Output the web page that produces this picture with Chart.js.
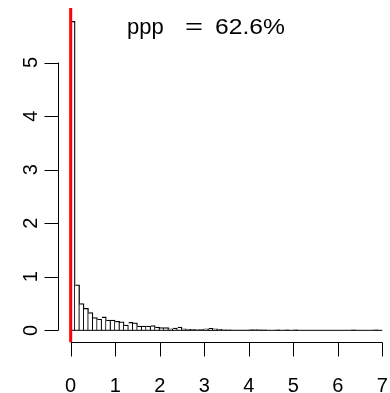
<!DOCTYPE html>
<html>
<head>
<meta charset="utf-8">
<script src="https://cdn.jsdelivr.net/npm/chart.js@4"></script>
<style>
  html, body { margin: 0; padding: 0; background: #fff; }
  canvas { display: block; }
</style>
</head>
<body>
<canvas id="histChart" width="390" height="393"></canvas>
<script>
// histogram bins: width 0.1, starting at 0
const binWidth = 0.1;
const density = [
  5.77, 0.85, 0.50, 0.41, 0.33, 0.24, 0.21, 0.25, 0.19, 0.19,
  0.17, 0.16, 0.10, 0.15, 0.14, 0.08, 0.08, 0.08, 0.09, 0.06,
  0.05, 0.05, 0.03, 0.04, 0.06, 0.03, 0.02, 0.02, 0.015, 0.02,
  0.03, 0.035, 0.03, 0.02, 0.01, 0.01, 0.005, 0.005, 0.005, 0.005,
  0.015, 0.015, 0.01, 0.01, 0, 0, 0.01, 0, 0.01, 0,
  0.01, 0, 0, 0, 0, 0, 0, 0, 0, 0,
  0, 0, 0, 0.01, 0, 0, 0, 0, 0.01, 0
];
const binMids = density.map((d, i) => +(i * binWidth + binWidth / 2).toFixed(2));
const xTicks = [0, 1, 2, 3, 4, 5, 6, 7];
const yTicks = [0, 1, 2, 3, 4, 5];
const titleLeft = 'ppp';
const titleEq = '=';
const titleRight = '62.6%';
const refLine = 0;

const FONT = '"Liberation Sans", Arial, Helvetica, sans-serif';

// R-style axes, baseline, red reference line and title
const rDecor = {
    id: 'rDecor',
    afterDatasetsDraw(chart) {
        const ctx = chart.ctx;
        const xs = chart.scales.x;
        const ys = chart.scales.y;
        const area = chart.chartArea;
        ctx.save();

        // baseline under the bars
        ctx.strokeStyle = '#000';
        ctx.lineWidth = 1;
        const y0 = ys.getPixelForValue(0);
        ctx.beginPath();
        ctx.moveTo(xs.getPixelForValue(0), y0);
        ctx.lineTo(xs.getPixelForValue(density.length * binWidth), y0);
        ctx.stroke();

        // red vertical line
        ctx.strokeStyle = '#ff0000';
        ctx.lineWidth = 3;
        const xr = xs.getPixelForValue(refLine);
        ctx.beginPath();
        ctx.moveTo(xr, area.top);
        ctx.lineTo(xr, area.bottom);
        ctx.stroke();

        // y axis
        ctx.strokeStyle = '#000';
        ctx.lineWidth = 1;
        const ax = Math.round(area.left) + 0.5;
        ctx.beginPath();
        ctx.moveTo(ax, ys.getPixelForValue(yTicks[0]));
        ctx.lineTo(ax, ys.getPixelForValue(yTicks[yTicks.length - 1]));
        yTicks.forEach(v => {
            const py = Math.round(ys.getPixelForValue(v)) + 0.5;
            ctx.moveTo(ax, py);
            ctx.lineTo(ax - 14, py);
        });
        ctx.stroke();

        ctx.fillStyle = '#000';
        ctx.font = '20px ' + FONT;
        ctx.textAlign = 'center';
        ctx.textBaseline = 'alphabetic';
        yTicks.forEach(v => {
            ctx.save();
            ctx.translate(37, ys.getPixelForValue(v));
            ctx.rotate(-Math.PI / 2);
            ctx.fillText(String(v), 0, 0);
            ctx.restore();
        });

        // x axis
        const ay = Math.round(area.bottom) + 0.5;
        ctx.beginPath();
        ctx.moveTo(xs.getPixelForValue(xTicks[0]), ay);
        ctx.lineTo(xs.getPixelForValue(xTicks[xTicks.length - 1]), ay);
        xTicks.forEach(v => {
            const px = Math.round(xs.getPixelForValue(v)) + 0.5;
            ctx.moveTo(px, ay);
            ctx.lineTo(px, ay + 14);
        });
        ctx.stroke();
        xTicks.forEach(v => {
            ctx.fillText(String(v), xs.getPixelForValue(v), 392);
        });

        // title inside the plot
        ctx.font = '22px ' + FONT;
        ctx.textAlign = 'left';
        ctx.fillText(titleLeft, 127, 34);
        ctx.save();
        ctx.translate(215, 34);
        ctx.scale(1.12, 1);
        ctx.fillText(titleRight, 0, 0);
        ctx.restore();
        ctx.save();
        ctx.translate(194, 34);
        ctx.scale(1.4, 1);
        ctx.textAlign = 'center';
        ctx.fillText(titleEq, 0, 0);
        ctx.restore();

        ctx.restore();
    }
};

new Chart(document.getElementById('histChart'), {
    type: 'bar',
    data: {
        datasets: [{
            data: binMids.map((m, i) => ({ x: m, y: density[i] })),
            backgroundColor: '#ffffff',
            borderColor: '#000000',
            borderWidth: c => ({ top: 1.3, right: 1.3, bottom: 0, left: c.dataIndex === 0 ? 1.3 : 0 }),
            borderSkipped: false,
            barPercentage: 1,
            categoryPercentage: 1
        }]
    },
    options: {
        responsive: false,
        animation: false,
        devicePixelRatio: 1,
        layout: { padding: { left: 58, right: 0, top: 8, bottom: 51 } },
        plugins: {
            legend: { display: false },
            tooltip: { enabled: false }
        },
        scales: {
            x: { type: 'linear', display: false, offset: false, min: -0.285, max: 7.174 },
            y: { type: 'linear', display: false, min: -0.218, max: 6.018 }
        }
    },
    plugins: [rDecor]
});
</script>
</body>
</html>
